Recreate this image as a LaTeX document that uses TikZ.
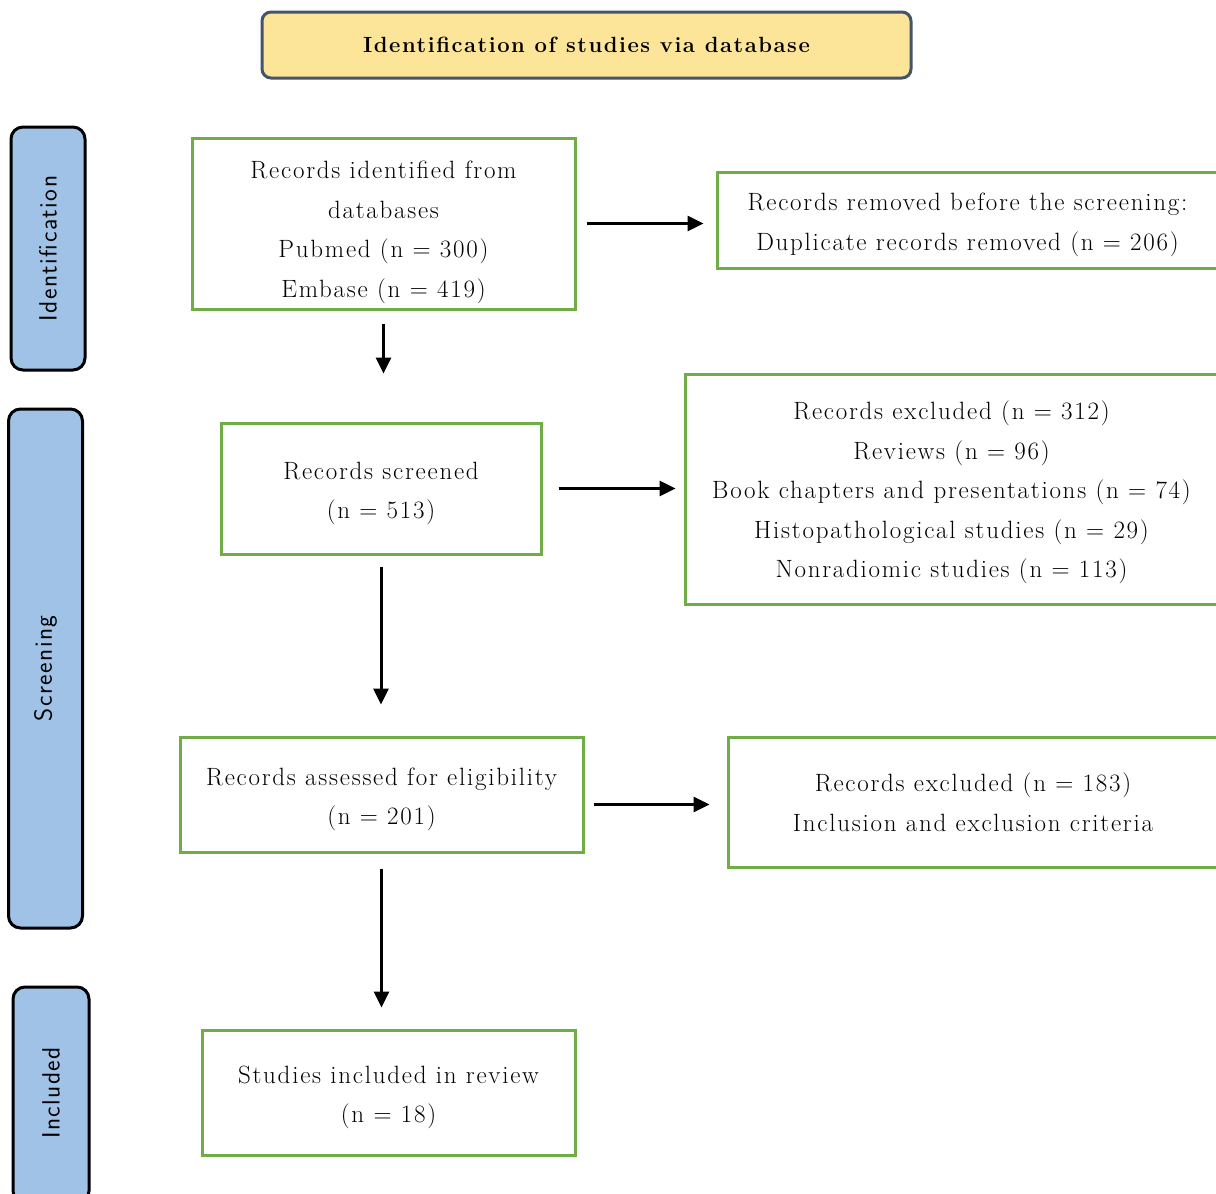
\documentclass[tikz,border=0pt]{standalone}
\usepackage{fontspec}
\setmainfont{Latin Modern Roman}[LetterSpace=7]
\newfontfamily\sidefont{Latin Modern Sans}[LetterSpace=6]
\usetikzlibrary{arrows.meta}

\definecolor{boxgreen}{RGB}{112,173,71}
\definecolor{headfill}{RGB}{252,228,152}
\definecolor{headline}{RGB}{68,84,106}
\definecolor{sidefill}{RGB}{160,194,230}

\newcommand{\lift}[1]{\rule{0pt}{#1pt}}

\begin{document}
\begin{tikzpicture}[
        x=1pt, y=-1pt,
        box/.style={draw=boxgreen, line width=3pt, align=center, inner sep=0pt,
            font=\fontsize{25}{39.5}\selectfont},
        headbox/.style={draw=headline, fill=headfill, line width=3pt, rounded corners=9pt,
            inner sep=0pt, font=\fontsize{22}{28}\selectfont\bfseries},
        sidebox/.style={draw=black, fill=sidefill, line width=3pt, rounded corners=12pt,
            inner sep=0pt, minimum width=74pt},
        sidetext/.style={rotate=90, font=\fontsize{25}{30}\selectfont\sidefont},
        arrow/.style={line width=3pt, -{Triangle[length=16pt, width=15pt]}}
    ]
        \useasboundingbox (0,0) rectangle (1216,1194);

        % header and phases
        \node [headbox, minimum width=649pt, minimum height=66pt] (head) at (586.5,45)
            {Identification of studies via database};
        \node [sidebox, minimum height=243pt] (ident) at (48,248.5) {};
        \node [sidetext] at (ident) {Identification};
        \node [sidebox, minimum height=519pt] (screen) at (45.5,668.5) {};
        \node [sidetext] at (screen) {Screening};
        \node [sidebox, minimum width=76pt, minimum height=216pt] (incl) at (51,1095) {};
        \node [sidetext] at (51,1093) {Included};

        % main flow
        \node [box, minimum width=383pt, minimum height=171pt] (found) at (383.5,223.5)
            {\lift{35}Records identified from\\databases\\Pubmed (n = 300)\\Embase (n = 419)};
        \node [box, minimum width=320pt, minimum height=131pt] (screened) at (381,488.5)
            {\lift{27}Records screened\\(n = 513)};
        \node [box, minimum width=403pt, minimum height=115pt] (assessed) at (381.5,794.5)
            {\lift{27}Records assessed for eligibility\\(n = 201)};
        \node [box, minimum width=373pt, minimum height=125pt] (included) at (388.5,1092.5)
            {\lift{27}Studies included in review\\(n = 18)};

        % side boxes
        \node [box, minimum width=501pt, minimum height=96pt] (removed) at (967.5,220)
            {\lift{27}Records removed before the screening:\\Duplicate records removed (n = 206)};
        \node [box, minimum width=533pt, minimum height=230pt] (excl1) at (951.5,489)
            {\lift{26}Records excluded (n = 312)\\Reviews (n = 96)\\Book chapters and presentations (n = 74)\\
             Histopathological studies (n = 29)\\Nonradiomic studies (n = 113)};
        \node [box, minimum width=490pt, minimum height=130pt] (excl2) at (973,802)
            {Records excluded (n = 183)\\Inclusion and exclusion criteria};

        \draw [arrow, shorten <=10pt, shorten >=12pt] (found.east) -- (found.east -| removed.west);
        \draw [arrow, shorten <=13pt, shorten >=48pt] (found.south) -- (found.south |- screened.north);
        \draw [arrow, shorten <=16pt, shorten >=8pt] (screened.east) -- (screened.east -| excl1.west);
        \draw [arrow, shorten <=11pt, shorten >=31pt] (screened.south) -- (screened.south |- assessed.north);
        \draw [arrow, shorten <=9pt, shorten >=17pt] ([yshift=-10pt]assessed.east) -- ([yshift=-10pt]assessed.east -| excl2.west);
        \draw [arrow, shorten <=15pt, shorten >=21pt] (assessed.south) -- (assessed.south |- included.north);
    \end{tikzpicture}
\end{document}
